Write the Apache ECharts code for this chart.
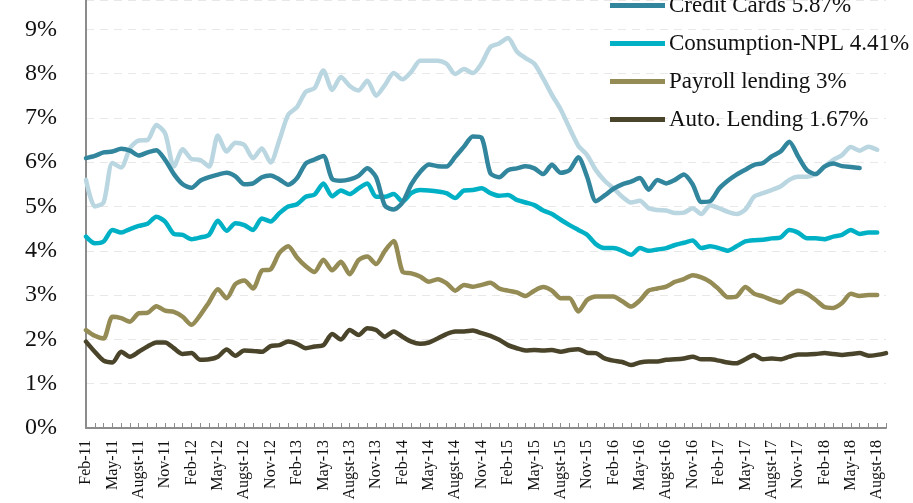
<!DOCTYPE html>
<html>
<head>
<meta charset="utf-8">
<script src="https://cdn.jsdelivr.net/npm/echarts@6/dist/echarts.min.js"></script>
<style>
  html, body { margin: 0; padding: 0; background: #fff; }
  #chart { width: 913px; height: 503px; }
</style>
</head>
<body>
<div id="chart"></div>
<script>
const months = [
  'Feb-11','Mar-11','Apr-11','May-11','Jun-11','Jul-11','Augst-11','Sep-11','Oct-11','Nov-11','Dec-11','Jan-12',
  'Feb-12','Mar-12','Apr-12','May-12','Jun-12','Jul-12','Augst-12','Sep-12','Oct-12','Nov-12','Dec-12','Jan-13',
  'Feb-13','Mar-13','Apr-13','May-13','Jun-13','Jul-13','Augst-13','Sep-13','Oct-13','Nov-13','Dec-13','Jan-14',
  'Feb-14','Mar-14','Apr-14','May-14','Jun-14','Jul-14','Augst-14','Sep-14','Oct-14','Nov-14','Dec-14','Jan-15',
  'Feb-15','Mar-15','Apr-15','May-15','Jun-15','Jul-15','Augst-15','Sep-15','Oct-15','Nov-15','Dec-15','Jan-16',
  'Feb-16','Mar-16','Apr-16','May-16','Jun-16','Jul-16','Augst-16','Sep-16','Oct-16','Nov-16','Dec-16','Jan-17',
  'Feb-17','Mar-17','Apr-17','May-17','Jun-17','Jul-17','Augst-17','Sep-17','Oct-17','Nov-17','Dec-17','Jan-18',
  'Feb-18','Mar-18','Apr-18','May-18','Jun-18','Jul-18','Augst-18','Sep-18'
];

// unlabeled light series (its legend entry is cut off above the picture)
const totalNpl = [
  5.60, 5.00, 5.09, 5.98, 5.88, 6.31, 6.49, 6.50, 6.84, 6.65,
  5.90, 6.29, 6.07, 6.05, 5.90, 6.60, 6.24, 6.44, 6.39, 6.09,
  6.31, 5.99, 6.50, 7.07, 7.24, 7.59, 7.67, 8.07, 7.63, 7.92,
  7.72, 7.62, 7.84, 7.50, 7.74, 8.01, 7.87, 8.04, 8.29, 8.29,
  8.29, 8.22, 7.99, 8.10, 8.01, 8.23, 8.60, 8.68, 8.80, 8.50,
  8.35, 8.22, 7.89, 7.52, 7.19, 6.77, 6.37, 6.16, 5.82, 5.58,
  5.41, 5.22, 5.09, 5.13, 4.96, 4.92, 4.91, 4.85, 4.86, 4.96,
  4.83, 5.03, 4.96, 4.88, 4.83, 4.93, 5.22, 5.30, 5.37, 5.45,
  5.60, 5.67, 5.67, 5.73, 5.90, 6.05, 6.16, 6.34, 6.26, 6.35, 6.28
];

const creditCards = [
  6.09, 6.14, 6.22, 6.24, 6.30, 6.26, 6.15, 6.22, 6.27, 6.05,
  5.73, 5.50, 5.42, 5.58, 5.66, 5.72, 5.76, 5.68, 5.50, 5.52,
  5.66, 5.70, 5.61, 5.49, 5.64, 5.97, 6.06, 6.14, 5.62, 5.58,
  5.61, 5.69, 5.86, 5.66, 5.02, 4.93, 5.09, 5.50, 5.78, 5.95,
  5.91, 5.90, 6.12, 6.35, 6.58, 6.55, 5.75, 5.66, 5.82, 5.86,
  5.91, 5.86, 5.73, 5.94, 5.76, 5.82, 6.11, 5.67, 5.12, 5.25,
  5.40, 5.50, 5.56, 5.64, 5.38, 5.60, 5.52, 5.60, 5.72, 5.50,
  5.10, 5.12, 5.40, 5.58, 5.72, 5.83, 5.94, 5.98, 6.13, 6.24,
  6.46, 6.13, 5.82, 5.73, 5.90, 5.97, 5.91, 5.89, 5.87
];

const consumption = [
  4.32, 4.17, 4.21, 4.47, 4.41, 4.49, 4.56, 4.61, 4.77, 4.66,
  4.38, 4.36, 4.26, 4.30, 4.36, 4.68, 4.45, 4.62, 4.58, 4.47,
  4.73, 4.66, 4.85, 5.00, 5.05, 5.22, 5.27, 5.52, 5.23, 5.36,
  5.28, 5.41, 5.52, 5.22, 5.22, 5.28, 5.11, 5.30, 5.37, 5.36,
  5.34, 5.30, 5.19, 5.36, 5.37, 5.41, 5.30, 5.24, 5.26, 5.15,
  5.09, 5.03, 4.91, 4.83, 4.70, 4.58, 4.47, 4.36, 4.15, 4.06,
  4.06, 4.00, 3.91, 4.06, 4.00, 4.03, 4.06, 4.13, 4.18, 4.23,
  4.06, 4.10, 4.06, 4.00, 4.10, 4.21, 4.24, 4.25, 4.28, 4.30,
  4.47, 4.41, 4.28, 4.28, 4.26, 4.32, 4.36, 4.47, 4.38, 4.41, 4.41
];

const payroll = [
  2.21, 2.08, 2.02, 2.51, 2.48, 2.40, 2.59, 2.60, 2.75, 2.65,
  2.62, 2.51, 2.33, 2.55, 2.84, 3.13, 2.93, 3.25, 3.33, 3.15,
  3.55, 3.58, 3.95, 4.10, 3.85, 3.65, 3.52, 3.80, 3.56, 3.75,
  3.47, 3.79, 3.87, 3.70, 4.00, 4.22, 3.53, 3.49, 3.42, 3.30,
  3.36, 3.27, 3.10, 3.23, 3.19, 3.23, 3.28, 3.15, 3.10, 3.06,
  2.98, 3.10, 3.18, 3.10, 2.93, 2.93, 2.63, 2.89, 2.97, 2.97,
  2.97, 2.86, 2.74, 2.88, 3.10, 3.15, 3.19, 3.30, 3.36, 3.45,
  3.40, 3.30, 3.13, 2.95, 2.97, 3.18, 3.03, 2.97, 2.89, 2.83,
  3.00, 3.10, 3.03, 2.89, 2.73, 2.71, 2.82, 3.03, 2.98, 3.00, 3.00
];

const autoLending = [
  1.95, 1.72, 1.52, 1.48, 1.72, 1.61, 1.72, 1.84, 1.93, 1.93,
  1.80, 1.67, 1.69, 1.54, 1.55, 1.61, 1.77, 1.63, 1.75, 1.74,
  1.72, 1.85, 1.87, 1.95, 1.90, 1.80, 1.84, 1.87, 2.12, 2.00,
  2.21, 2.10, 2.25, 2.21, 2.06, 2.18, 2.06, 1.95, 1.90, 1.93,
  2.02, 2.12, 2.18, 2.18, 2.20, 2.14, 2.08, 1.99, 1.87, 1.80,
  1.75, 1.76, 1.75, 1.76, 1.72, 1.76, 1.78, 1.70, 1.69, 1.57,
  1.52, 1.49, 1.42, 1.48, 1.50, 1.50, 1.54, 1.55, 1.57, 1.61,
  1.55, 1.55, 1.52, 1.48, 1.46, 1.55, 1.65, 1.55, 1.57, 1.55,
  1.61, 1.66, 1.66, 1.67, 1.69, 1.67, 1.65, 1.67, 1.69, 1.63, 1.65, 1.69
];

const legendNames = ['Credit Cards 5.87%', 'Consumption-NPL 4.41%', 'Payroll lending 3%', 'Auto. Lending 1.67%'];

const font = 'Liberation Serif';
const axisGray = '#8c8c8c';

const chart = echarts.init(document.getElementById('chart'));

function lineSeries(name, data, color) {
  return {
    name: name,
    type: 'line',
    data: data,
    smooth: 0.25,
    showSymbol: false,
    symbol: 'none',
    itemStyle: { color: color },
    lineStyle: { color: color, width: 4.5, cap: 'round', join: 'round' }
  };
}

// the top of the original chart is cropped, so the value axis stops just under 10%
const option = {
  animation: false,
  backgroundColor: '#fff',
  textStyle: { fontFamily: font },
  grid: { left: 86, right: 27, top: 0, bottom: 75, containLabel: false },
  legend: {
    orient: 'vertical',
    left: 610,
    top: 0,
    padding: [-6, 0, 0, 0],
    data: legendNames,
    icon: 'rect',
    itemWidth: 55,
    itemHeight: 5,
    itemGap: 15,
    textStyle: { fontFamily: font, fontSize: 23, color: '#111', lineHeight: 22, padding: [0, 0, 0, -1] }
  },
  xAxis: {
    type: 'category',
    data: months,
    boundaryGap: false,
    axisLine: { lineStyle: { color: axisGray, width: 2 } },
    axisTick: { show: true, inside: true, length: 5, interval: 0, lineStyle: { color: axisGray, width: 1 } },
    axisLabel: { interval: 2, rotate: 90, margin: 12, fontSize: 16, fontFamily: font, color: '#111' },
    splitLine: { show: false }
  },
  yAxis: {
    type: 'value',
    min: 0,
    max: 9.66,
    interval: 1,
    axisLine: { show: true, lineStyle: { color: axisGray, width: 2 } },
    axisTick: { show: false },
    axisLabel: { formatter: '{value}%', fontSize: 24, fontFamily: font, color: '#111', margin: 29, showMaxLabel: false },
    splitLine: { lineStyle: { color: '#e8e8e8', type: [8, 6], width: 1 } }
  },
  series: [
    lineSeries('Total NPL', totalNpl, '#b9d6e1'),
    lineSeries(legendNames[3], autoLending, '#4a452a'),
    lineSeries(legendNames[2], payroll, '#958b55'),
    lineSeries(legendNames[1], consumption, '#00b1c6'),
    lineSeries(legendNames[0], creditCards, '#31869e')
  ]
};

chart.setOption(option);
</script>
</body>
</html>
